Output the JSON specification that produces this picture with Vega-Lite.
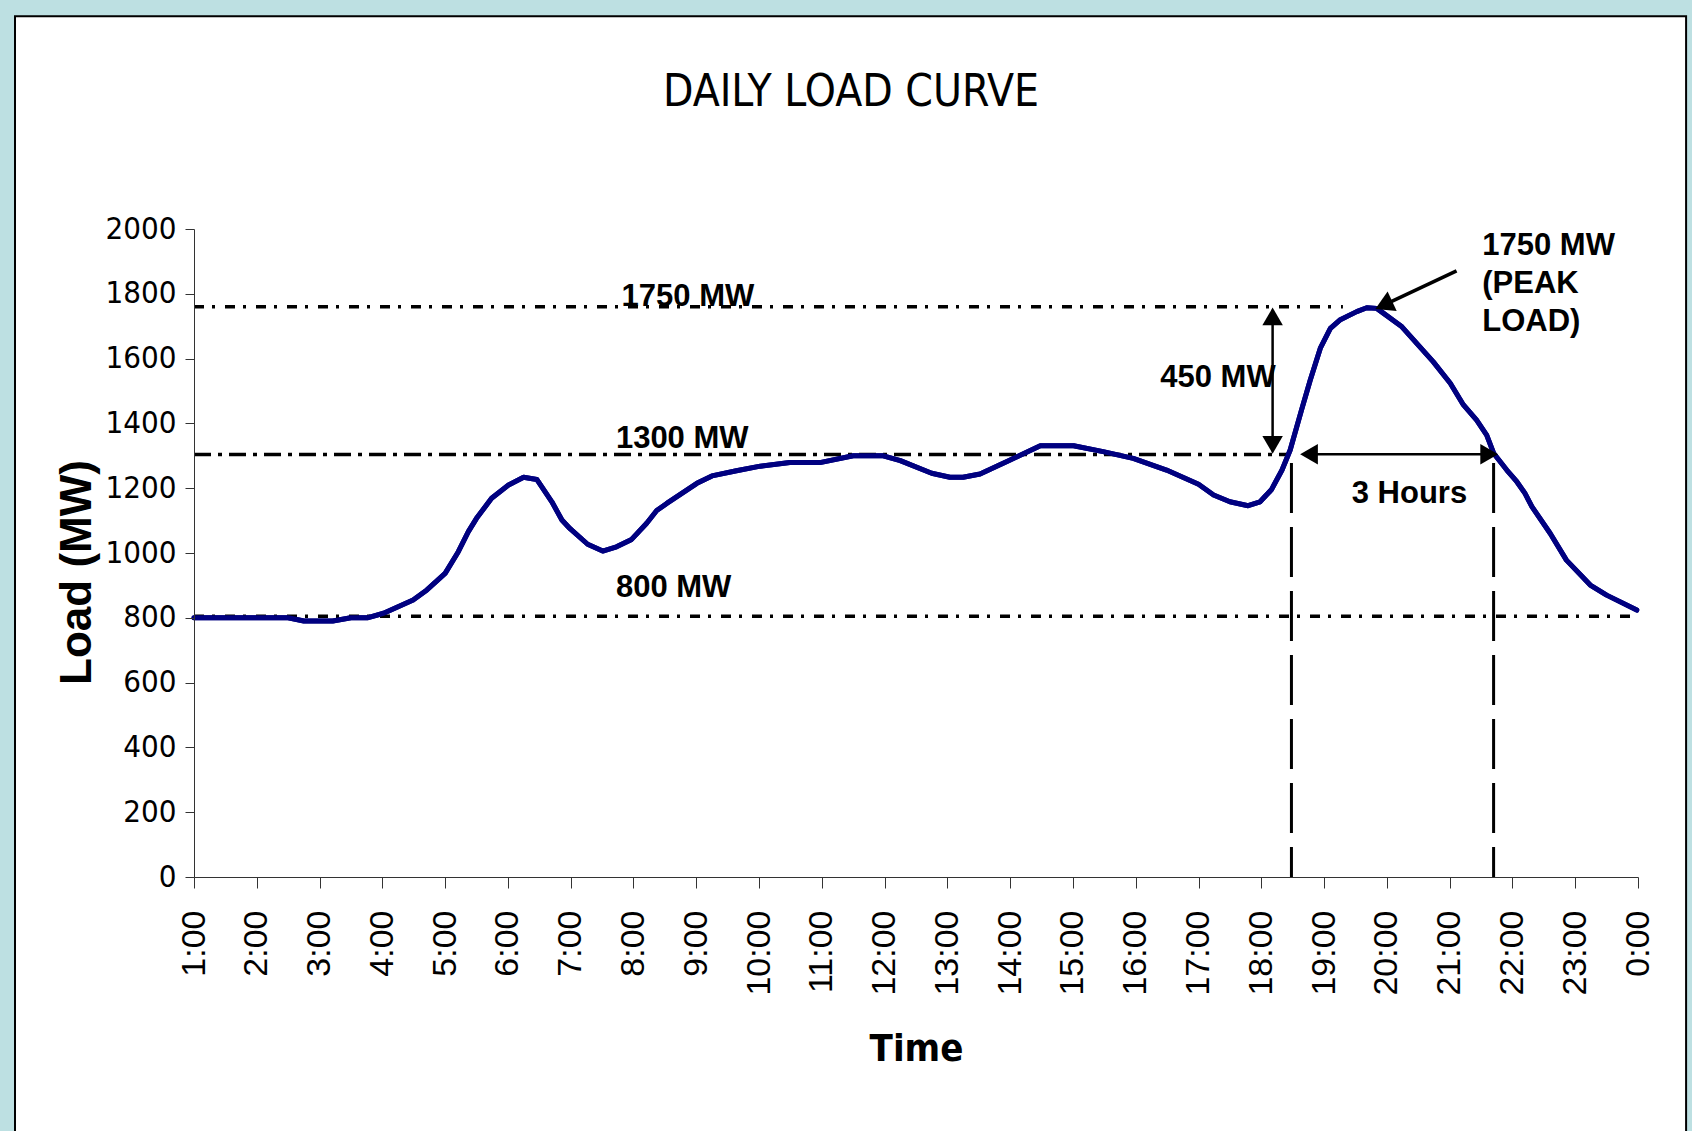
{
  "$schema": "https://vega.github.io/schema/vega-lite/v6.json",
  "width": 1444,
  "height": 648,
  "autosize": "none",
  "padding": {"left": 194, "top": 229, "right": 54, "bottom": 254},
  "background": "#bde0e2",
  "title": {
    "text": "DAILY LOAD CURVE",
    "font": "DejaVu Sans Condensed, Liberation Sans Narrow, sans-serif",
    "fontSize": 44,
    "fontWeight": "normal",
    "color": "#000000",
    "anchor": "middle",
    "frame": "group",
    "baseline": "alphabetic",
    "dx": -65,
    "offset": -135,
    "zindex": 1
  },
  "config": {
    "view": {"stroke": null}
  },
  "datasets": {
    "load": [
      {"h": 1.00, "mw": 800}, {"h": 1.50, "mw": 800}, {"h": 2.00, "mw": 800}, {"h": 2.50, "mw": 800},
      {"h": 2.75, "mw": 790}, {"h": 3.00, "mw": 790}, {"h": 3.21, "mw": 790}, {"h": 3.50, "mw": 800},
      {"h": 3.76, "mw": 800}, {"h": 4.02, "mw": 814}, {"h": 4.49, "mw": 855}, {"h": 4.71, "mw": 886},
      {"h": 5.00, "mw": 937}, {"h": 5.21, "mw": 1004}, {"h": 5.37, "mw": 1066}, {"h": 5.50, "mw": 1107},
      {"h": 5.74, "mw": 1169}, {"h": 6.01, "mw": 1210}, {"h": 6.25, "mw": 1234}, {"h": 6.46, "mw": 1227},
      {"h": 6.70, "mw": 1158}, {"h": 6.86, "mw": 1102}, {"h": 6.99, "mw": 1075}, {"h": 7.27, "mw": 1027},
      {"h": 7.51, "mw": 1006}, {"h": 7.73, "mw": 1019}, {"h": 7.97, "mw": 1042}, {"h": 8.21, "mw": 1092},
      {"h": 8.37, "mw": 1131}, {"h": 8.53, "mw": 1153}, {"h": 9.01, "mw": 1215}, {"h": 9.25, "mw": 1238},
      {"h": 9.64, "mw": 1254}, {"h": 10.02, "mw": 1268}, {"h": 10.49, "mw": 1279}, {"h": 10.97, "mw": 1279},
      {"h": 11.50, "mw": 1300}, {"h": 11.98, "mw": 1300}, {"h": 12.25, "mw": 1285}, {"h": 12.75, "mw": 1246},
      {"h": 13.04, "mw": 1234}, {"h": 13.25, "mw": 1234}, {"h": 13.52, "mw": 1244}, {"h": 14.00, "mw": 1287},
      {"h": 14.48, "mw": 1331}, {"h": 15.01, "mw": 1331}, {"h": 15.48, "mw": 1313}, {"h": 15.96, "mw": 1292},
      {"h": 16.49, "mw": 1256}, {"h": 17.00, "mw": 1212}, {"h": 17.24, "mw": 1179}, {"h": 17.50, "mw": 1158},
      {"h": 17.79, "mw": 1146}, {"h": 17.98, "mw": 1158}, {"h": 18.16, "mw": 1195}, {"h": 18.33, "mw": 1256},
      {"h": 18.46, "mw": 1318}, {"h": 18.64, "mw": 1441}, {"h": 18.78, "mw": 1534}, {"h": 18.94, "mw": 1632},
      {"h": 19.10, "mw": 1693}, {"h": 19.25, "mw": 1719}, {"h": 19.52, "mw": 1745}, {"h": 19.68, "mw": 1757},
      {"h": 19.84, "mw": 1755}, {"h": 20.24, "mw": 1698}, {"h": 20.74, "mw": 1590}, {"h": 21.01, "mw": 1524},
      {"h": 21.22, "mw": 1457}, {"h": 21.43, "mw": 1410}, {"h": 21.59, "mw": 1364}, {"h": 21.70, "mw": 1308},
      {"h": 21.91, "mw": 1256}, {"h": 22.07, "mw": 1220}, {"h": 22.20, "mw": 1184}, {"h": 22.31, "mw": 1143},
      {"h": 22.60, "mw": 1061}, {"h": 22.86, "mw": 978}, {"h": 23.24, "mw": 901}, {"h": 23.50, "mw": 870},
      {"h": 23.98, "mw": 824}
    ],
    "hlines": [
      {"mw": 1760, "h0": 1, "h1": 19.3, "style": "dashdot"},
      {"mw": 1304, "h0": 1, "h1": 18.45, "style": "longdashdot"},
      {"mw": 805, "h0": 1, "h1": 24, "style": "dashdot"}
    ],
    "vlines": [
      {"h": 18.48, "top": 1278, "bottom": 0},
      {"h": 21.70, "top": 1278, "bottom": 0}
    ],
    "arrows": [
      {"h0": 18.18, "h1": 18.18, "m0": 1330, "m1": 1735},
      {"h0": 18.72, "h1": 21.67, "m0": 1305, "m1": 1305}
    ],
    "heads": [
      {"h": 18.18, "mw": 1730, "dir": "up"},
      {"h": 18.18, "mw": 1334, "dir": "down"},
      {"h": 18.76, "mw": 1305, "dir": "left"},
      {"h": 21.63, "mw": 1305, "dir": "right"}
    ],
    "peakarrow": [{"h0": 21.11, "h1": 19.95, "m0": 1871, "m1": 1765}],
    "peakhead": [{"h": 19.95, "mw": 1765}],
    "labels": [
      {"h": 7.81, "mw": 1761, "label": "1750 MW"},
      {"h": 7.72, "mw": 1323, "label": "1300 MW"},
      {"h": 7.72, "mw": 863, "label": "800 MW"},
      {"h": 16.39, "mw": 1512, "label": "450 MW"},
      {"h": 19.44, "mw": 1154, "label": "3 Hours"}
    ],
    "peaklabel": [{"h": 21.52, "mw": 1920, "label": "1750 MW\n(PEAK\nLOAD)"}]
  },
  "layer": [
    {
      "data": {"values": [{"panel": "chart area"}]},
      "mark": {"type": "rect", "fill": "#ffffff", "stroke": "#000000", "strokeWidth": 2, "clip": false},
      "encoding": {
        "x": {"datum": -1.851, "type": "quantitative"},
        "x2": {"datum": 24.766},
        "y": {"datum": 2657, "type": "quantitative"},
        "y2": {"datum": -900}
      }
    },
    {
      "data": {"name": "load"},
      "mark": {"type": "line", "color": "#000080", "strokeWidth": 5, "strokeJoin": "round", "strokeCap": "round"},
      "encoding": {
        "x": {
          "field": "h", "type": "quantitative",
          "scale": {"domain": [1, 24], "nice": false, "zero": false},
          "axis": {
            "zindex": 2,
            "title": "Time",
            "values": [1,2,3,4,5,6,7,8,9,10,11,12,13,14,15,16,17,18,19,20,21,22,23,24],
            "labelExpr": "datum.value == 24 ? '0:00' : datum.value + ':00'",
            "labelAngle": 270,
            "labelFont": "Liberation Sans",
            "labelFontSize": 34,
            "labelColor": "#000000",
            "labelPadding": 22,
            "labelOverlap": false,
            "labelFlush": false,
            "tickSize": 11,
            "tickColor": "#333333",
            "domainColor": "#333333",
            "grid": false,
            "titleFont": "DejaVu Sans Condensed, Liberation Sans Narrow, sans-serif",
            "titleFontSize": 38,
            "titleFontWeight": "bold",
            "titleColor": "#000000",
            "titleBaseline": "alphabetic",
            "titleY": 183
          }
        },
        "y": {
          "field": "mw", "type": "quantitative",
          "scale": {"domain": [0, 2000], "nice": false},
          "axis": {
            "zindex": 2,
            "title": "Load (MW)",
            "values": [0,200,400,600,800,1000,1200,1400,1600,1800,2000],
            "format": "d",
            "labelFont": "DejaVu Sans Condensed, Liberation Sans Narrow, sans-serif",
            "labelFontSize": 31,
            "labelColor": "#000000",
            "labelPadding": 9,
            "labelFlush": false,
            "labelOverlap": false,
            "tickSize": 9,
            "tickColor": "#333333",
            "domainColor": "#333333",
            "grid": false,
            "titleFont": "Liberation Sans",
            "titleFontSize": 44,
            "titleFontWeight": "bold",
            "titleColor": "#000000",
            "titleBaseline": "alphabetic",
            "titleAngle": 270,
            "titleX": -104,
            "titleY": 343
          }
        }
      }
    },
    {
      "data": {"name": "hlines"},
      "mark": {"type": "rule", "color": "#000000", "strokeWidth": 3.5},
      "encoding": {
        "x": {"field": "h0", "type": "quantitative"},
        "x2": {"field": "h1"},
        "y": {"field": "mw", "type": "quantitative"},
        "strokeDash": {
          "field": "style", "type": "nominal", "legend": null,
          "scale": {"domain": ["dashdot", "longdashdot"], "range": [[10, 8, 3, 10], [17, 7, 4, 7]]}
        }
      }
    },
    {
      "data": {"name": "vlines"},
      "mark": {"type": "rule", "color": "#000000", "strokeWidth": 3, "strokeDash": [50, 14]},
      "encoding": {
        "x": {"field": "h", "type": "quantitative"},
        "y": {"field": "top", "type": "quantitative"},
        "y2": {"field": "bottom"}
      }
    },
    {
      "data": {"name": "load"},
      "mark": {"type": "line", "color": "#000080", "strokeWidth": 5, "strokeJoin": "round", "strokeCap": "round"},
      "encoding": {
        "x": {"field": "h", "type": "quantitative"},
        "y": {"field": "mw", "type": "quantitative"}
      }
    },
    {
      "data": {"name": "arrows"},
      "mark": {"type": "rule", "color": "#000000", "strokeWidth": 2.5},
      "encoding": {
        "x": {"field": "h0", "type": "quantitative"},
        "x2": {"field": "h1"},
        "y": {"field": "m0", "type": "quantitative"},
        "y2": {"field": "m1"}
      }
    },
    {
      "data": {"name": "heads"},
      "mark": {"type": "point", "filled": true, "color": "#000000", "size": 420, "opacity": 1},
      "encoding": {
        "x": {"field": "h", "type": "quantitative"},
        "y": {"field": "mw", "type": "quantitative"},
        "shape": {
          "field": "dir", "type": "nominal", "legend": null,
          "scale": {"domain": ["up", "down", "left", "right"], "range": ["triangle-up", "triangle-down", "triangle-left", "triangle-right"]}
        }
      }
    },
    {
      "data": {"name": "peakarrow"},
      "mark": {"type": "rule", "color": "#000000", "strokeWidth": 3.5},
      "encoding": {
        "x": {"field": "h0", "type": "quantitative"},
        "x2": {"field": "h1"},
        "y": {"field": "m0", "type": "quantitative"},
        "y2": {"field": "m1"}
      }
    },
    {
      "data": {"name": "peakhead"},
      "mark": {"type": "point", "filled": true, "color": "#000000", "size": 460, "opacity": 1, "shape": "triangle-up", "angle": 245},
      "encoding": {
        "x": {"field": "h", "type": "quantitative"},
        "y": {"field": "mw", "type": "quantitative"}
      }
    },
    {
      "data": {"name": "labels"},
      "mark": {"type": "text", "font": "Liberation Sans", "fontSize": 31, "fontWeight": "bold", "color": "#000000", "align": "left", "baseline": "alphabetic"},
      "encoding": {
        "x": {"field": "h", "type": "quantitative"},
        "y": {"field": "mw", "type": "quantitative"},
        "text": {"field": "label", "type": "nominal"}
      }
    },
    {
      "data": {"name": "peaklabel"},
      "mark": {"type": "text", "font": "Liberation Sans", "fontSize": 31, "fontWeight": "bold", "color": "#000000", "align": "left", "baseline": "alphabetic", "lineBreak": "\n", "lineHeight": 38},
      "encoding": {
        "x": {"field": "h", "type": "quantitative"},
        "y": {"field": "mw", "type": "quantitative"},
        "text": {"field": "label", "type": "nominal"}
      }
    }
  ]
}
